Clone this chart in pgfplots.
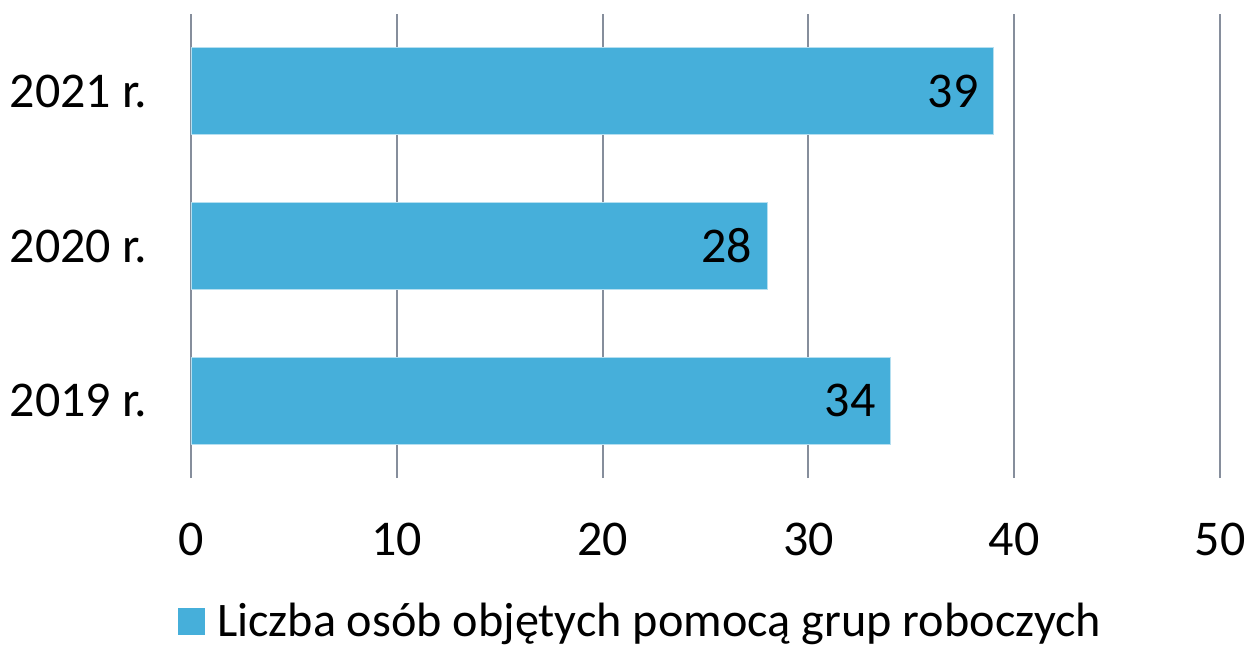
\documentclass[border=0pt]{standalone}
\usepackage{pgfplots}
\pgfplotsset{compat=1.18}
\usepackage{fontspec}
\setmainfont{Carlito}
\definecolor{barblue}{RGB}{70,175,218}
\definecolor{gridc}{RGB}{134,142,156}
\newcommand{\bigf}{\fontsize{25}{30}\selectfont}
\newcommand{\legf}{\fontsize{24.1}{29}\selectfont}
\begin{document}
\begin{tikzpicture}
\begin{axis}[
  scale only axis, width=514.5pt, height=232pt,
  xbar, bar width=43.5pt,
  xmin=0, xmax=50, ymin=-0.5, ymax=2.5,
  xtick={0,10,20,30,40,50},
  ytick={0,1,2}, yticklabels={2019 r.,2020 r.,2021 r.},
  axis line style={draw=none}, tick style={draw=none},
  xmajorgrids, major grid style={gridc, line width=1pt},
  /pgf/number format/assume math mode=true,
  tick label style={font=\bigf, text=black},
  xticklabel style={yshift=-19pt},
  yticklabel style={xshift=-14pt},
  nodes near coords,
  nodes near coords style={anchor=east, xshift=-4pt, font=\bigf, text=black},
  legend style={at={(0.436,-0.308)}, anchor=center, draw=none, font=\legf, inner sep=0pt,
    nodes={inner sep=0pt}},
  legend image code/.code={\fill[barblue] (0pt,-6.5pt) rectangle (13pt,6.5pt); \path (19pt,0pt);},
]
\addplot[fill=barblue, draw=barblue!40!white, line width=0.4pt] coordinates {(34,0) (28,1) (39,2)};
\addlegendentry{Liczba osób objętych pomocą grup roboczych}
\coordinate (sw) at (rel axis cs:0,0);
\coordinate (ne) at (rel axis cs:1,1);
\end{axis}
\pgfresetboundingbox
\path[use as bounding box] ([shift={(-95.5pt,-84pt)}]sw) rectangle ([shift={(20pt,7pt)}]ne);
\end{tikzpicture}
\end{document}
